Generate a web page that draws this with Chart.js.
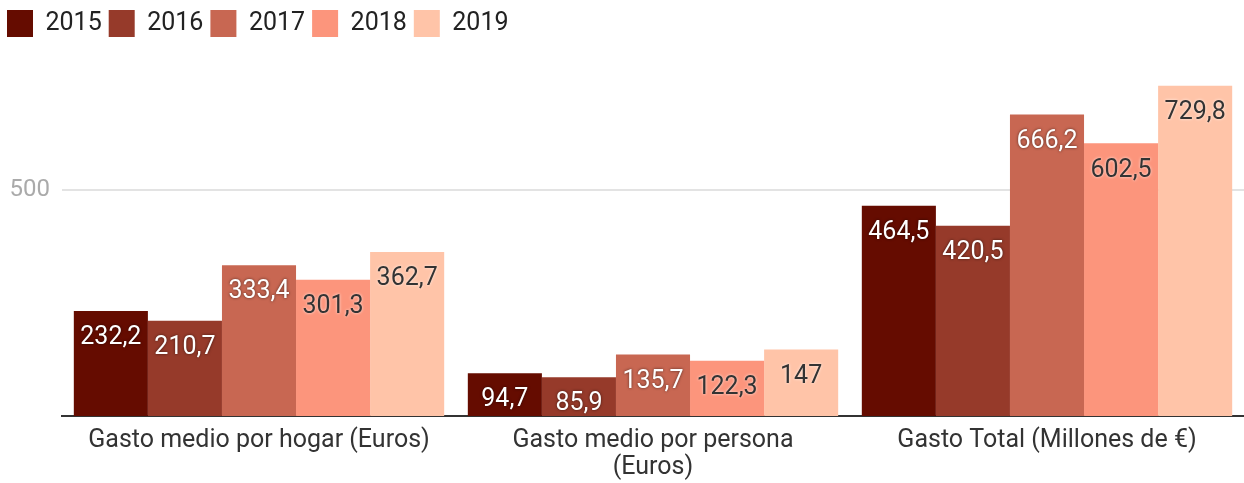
<!DOCTYPE html>
<html>
<head>
<meta charset="utf-8">
<script src="https://cdn.jsdelivr.net/npm/chart.js@4/dist/chart.umd.min.js"></script>
<style>
  html, body { margin:0; padding:0; background:#fff; }
  #wrap { width:1244px; height:483px; }
</style>
</head>
<body>
<div id="wrap"><canvas id="chart" width="1244" height="483"></canvas></div>
<script>
const categories = ['Gasto medio por hogar (Euros)', ['Gasto medio por persona', '(Euros)'], 'Gasto Total (Millones de €)'];
const years = ['2015', '2016', '2017', '2018', '2019'];
const v2015 = [232.2, 94.7, 464.5];
const v2016 = [210.7, 85.9, 420.5];
const v2017 = [333.4, 135.7, 666.2];
const v2018 = [301.3, 122.3, 602.5];
const v2019 = [362.7, 147, 729.8];
const yTicks = [500];

const colors = ['#650c00', '#963a2a', '#c86752', '#fc957c', '#ffc4a8'];
const labelDark = [false, false, false, true, true];
const series = [v2015, v2016, v2017, v2018, v2019];

const fmt = v => String(v).replace('.', ',');

// etiquetas de valor dentro de cada barra
const valueLabels = {
  id: 'valueLabels',
  afterDatasetsDraw(chart) {
    const ctx = chart.ctx;
    chart.data.datasets.forEach((ds, i) => {
      const meta = chart.getDatasetMeta(i);
      meta.data.forEach((bar, j) => {
        ctx.save();
        ctx.font = '25px Roboto';
        ctx.textAlign = 'center';
        ctx.textBaseline = 'middle';
        if (labelDark[i]) {
          ctx.fillStyle = '#333333';
          ctx.shadowColor = 'rgba(255,255,255,0.8)';
        } else {
          ctx.fillStyle = '#ffffff';
          ctx.shadowColor = 'rgba(0,0,0,0.6)';
        }
        ctx.shadowBlur = 3;
        ctx.fillText(fmt(ds.data[j]), bar.x, bar.y + 27);
        ctx.restore();
      });
    });
  }
};

// espacio extra bajo la leyenda
const legendGap = {
  id: 'legendGap',
  beforeInit(chart) {
    const fit = chart.legend.fit;
    chart.legend.fit = function() {
      fit.bind(chart.legend)();
      this.height += 7;
    };
  }
};

new Chart(document.getElementById('chart'), {
  type: 'bar',
  data: {
    labels: categories,
    datasets: series.map((d, i) => ({
      label: years[i],
      data: d,
      backgroundColor: colors[i],
      borderWidth: 0,
      barPercentage: 1.0,
      categoryPercentage: 0.94
    }))
  },
  options: {
    responsive: false,
    animation: false,
    layout: { padding: { top: 3, left: 0, right: 0, bottom: 0 } },
    plugins: {
      legend: {
        position: 'top',
        align: 'start',
        labels: {
          boxWidth: 26,
          boxHeight: 27,
          padding: 7,
          color: '#222222',
          font: { family: 'Roboto', size: 25 }
        }
      },
      tooltip: { enabled: false }
    },
    scales: {
      x: {
        afterFit(axis) { axis.height = 67; },
        grid: { display: false, drawTicks: false },
        border: { display: true, color: '#333333', width: 2 },
        ticks: {
          color: '#333333',
          font: { family: 'Roboto', size: 25, lineHeight: 1.05 },
          padding: 12,
          maxRotation: 0,
          autoSkip: false
        }
      },
      y: {
        min: 0,
        max: 800,
        afterBuildTicks(axis) { axis.ticks = yTicks.map(v => ({ value: v })); },
        afterFit(axis) { axis.width = 62; },
        grid: { color: '#e3e3e3', lineWidth: 2, drawTicks: false },
        border: { display: false },
        ticks: {
          color: '#aaaaaa',
          font: { family: 'Roboto', size: 24 },
          padding: 12
        }
      }
    }
  },
  plugins: [valueLabels, legendGap]
});
</script>
</body>
</html>
